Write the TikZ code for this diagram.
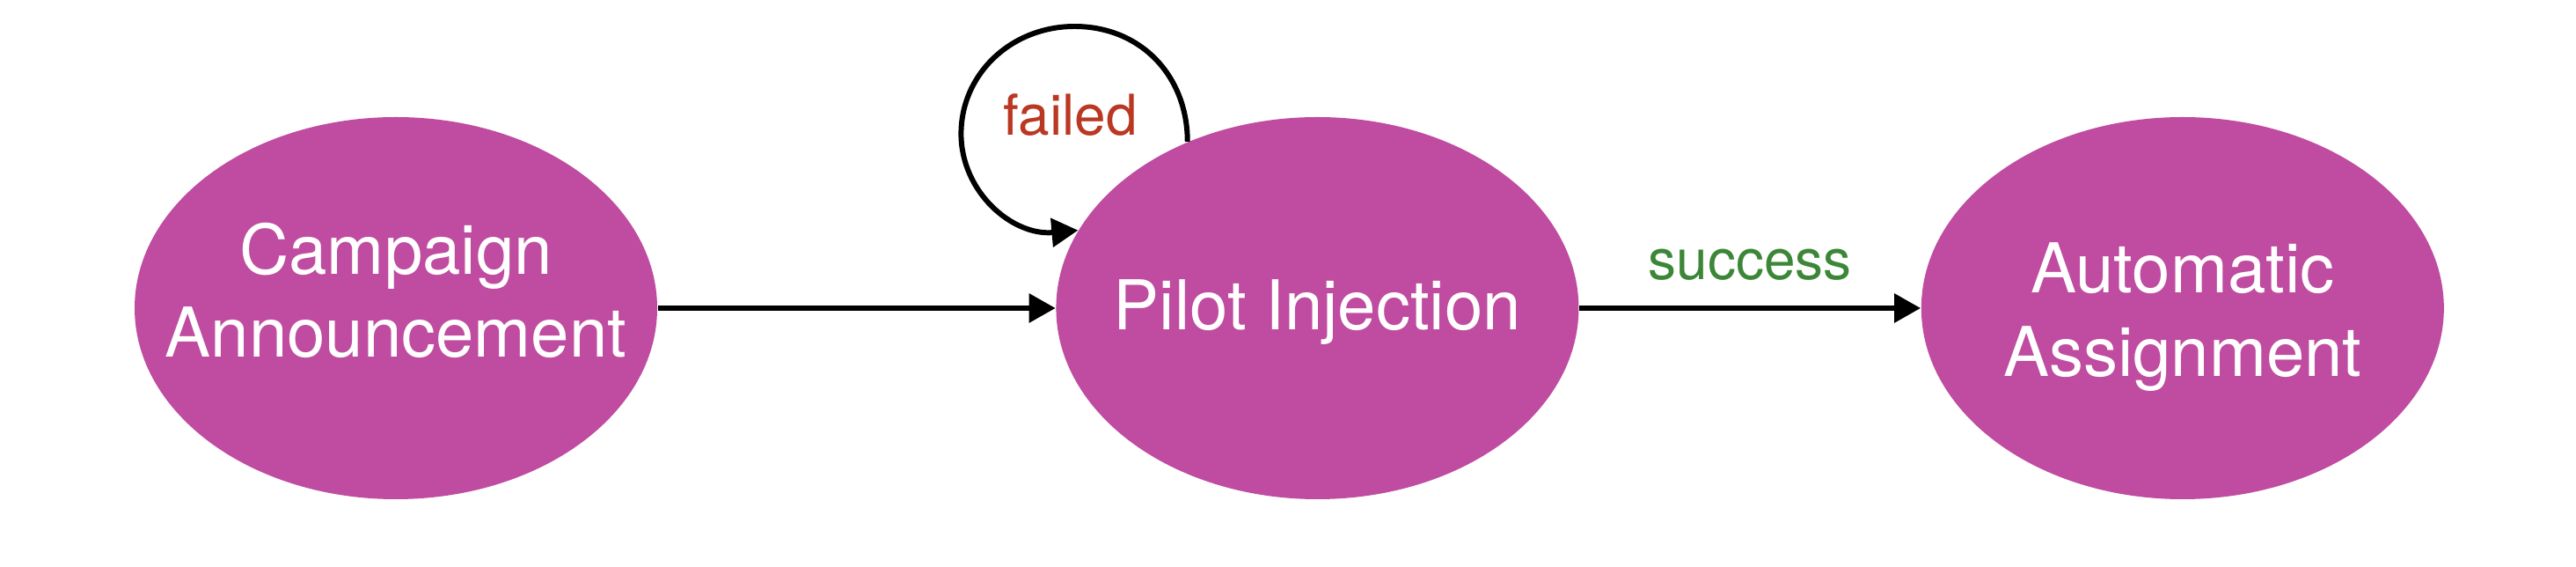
\documentclass[tikz,border=0pt]{standalone}
\usepackage{fontspec}
\setmainfont{TeX Gyre Heros}
\usetikzlibrary{positioning,shapes.geometric,arrows.meta,calc}

\definecolor{statefill}{RGB}{191,76,160}
\definecolor{failred}{RGB}{186,56,34}
\definecolor{succgreen}{RGB}{60,135,55}

\tikzset{
  state/.style={ellipse, fill=statefill, minimum width=5.94cm, minimum height=4.34cm, inner sep=0pt},
  statetext/.style={text=white, align=center, inner sep=0pt, font=\fontsize{22.2}{27}\selectfont},
  arr/.style={-{Triangle[length=3mm,width=3.2mm]}, line width=1.7pt},
  lbl/.style={font=\fontsize{18.2}{22}\selectfont, inner sep=0pt}
}

\begin{document}
\begin{tikzpicture}
\useasboundingbox (0,0) rectangle (29.28,6.44);

\node[state, label={[statetext, yshift=0.2cm]center:{Campaign\\Announcement}}] (ca) at (4.50,2.94) {};
\node[state, right=4.52cm of ca, label={[statetext, yshift=-0.05cm]center:{Pilot Injection}}] (pi) {};
\node[state, right=3.88cm of pi, label={[statetext, yshift=-0.1cm]center:{Automatic\\Assignment}}] (aa) {};

\draw[arr] (ca) -- (pi);
\draw[arr] (pi) -- node[lbl, midway, above=0.29cm, text=succgreen] {success} (aa);

% self loop on the injection state
\coordinate[above left=3.2cm and 2.76cm of pi.center] (looptop);
\draw[arr] (pi.128) .. controls +(90:0.75) and +(0:0.75) .. (looptop)
  .. controls +(180:0.72) and +(90:0.68) .. ++(-1.29,-1.22)
  .. controls +(270:0.66) and +(185:0.75) .. (pi.162);
\node[lbl, text=failred, anchor=base] (fl) at ($(looptop)+(-0.05,-1.24)$) {failed};

\end{tikzpicture}
\end{document}
